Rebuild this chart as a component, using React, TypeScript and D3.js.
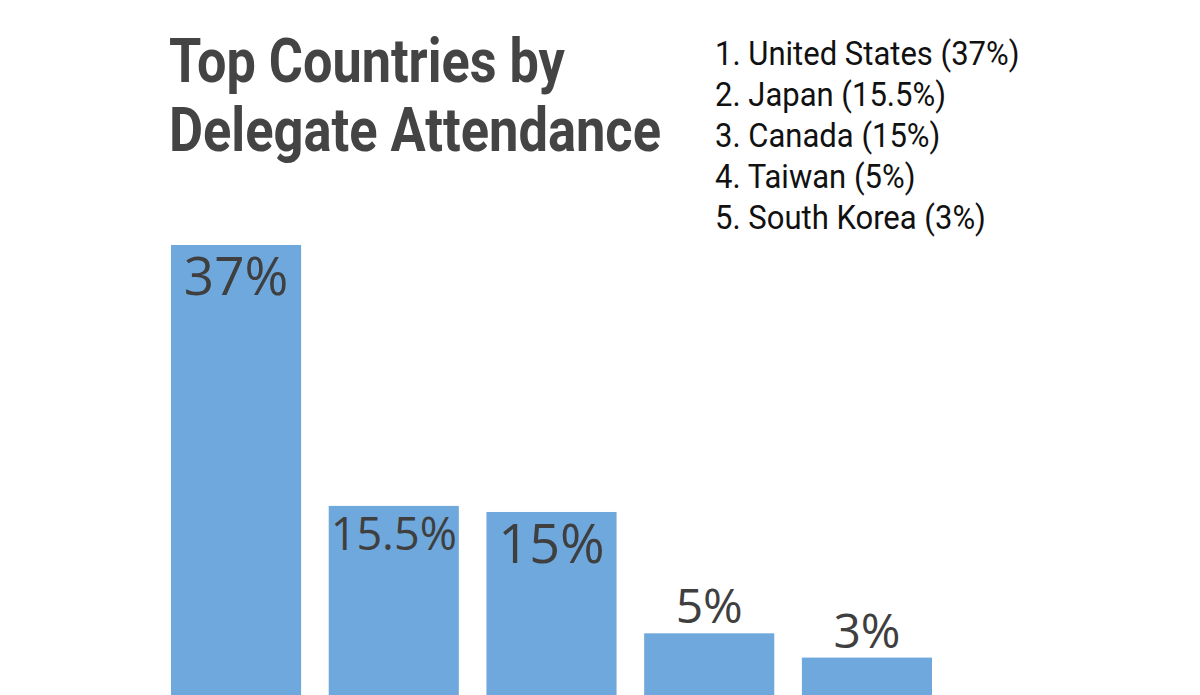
import React, { useEffect, useRef } from "react";
import * as d3 from "d3";

// attendance share per country, in percent
const countries = ["United States", "Japan", "Canada", "Taiwan", "South Korea"];
const shares = [37, 15.5, 15, 5, 3];
const shareLabels = ["37%", "15.5%", "15%", "5%", "3%"];

const titleLines = ["Top Countries by", "Delegate Attendance"];

// the value labels were set by hand at slightly different sizes
const labelSizes = [53, 45, 54, 48, 48];

// squeeze a text horizontally around its own start point
function condense(node: SVGTextElement, x: number, y: number, factor: number) {
  node.setAttribute("x", "0");
  node.setAttribute("y", "0");
  node.setAttribute("transform", `translate(${x},${y}) scale(${factor},1)`);
}

export default function App() {
  const svgRef = useRef<SVGSVGElement>(null);

  useEffect(() => {
    const width = 1200;
    const height = 695;
    const barColor = "#6fa8dc";
    const labelColor = "#3f3f3f";

    const svg = d3.select(svgRef.current);
    svg.selectAll("*").remove();
    svg.attr("width", width).attr("height", height);

    const xScale = d3
      .scaleBand<string>()
      .domain(countries)
      .range([171, 932])
      .paddingInner(0.175)
      .paddingOuter(0);

    const yScale = d3.scaleLinear().domain([0, 37]).range([694, 245]);

    svg
      .append("g")
      .attr("fill", barColor)
      .selectAll("rect")
      .data(shares)
      .join("rect")
      .attr("x", (d, i) => xScale(countries[i]) as number)
      .attr("width", xScale.bandwidth())
      .attr("y", (d) => yScale(d))
      .attr("height", (d) => height - yScale(d));

    // big bars carry their label inside, short ones just above the top
    svg
      .append("g")
      .attr("font-family", "'Open Sans', sans-serif")
      .attr("fill", labelColor)
      .attr("text-anchor", "middle")
      .selectAll("text")
      .data(shares)
      .join("text")
      .attr("x", (d, i) => (xScale(countries[i]) as number) + xScale.bandwidth() / 2)
      .attr("y", (d, i) =>
        d >= 10 ? yScale(d) + labelSizes[i] * 0.72 + 12 : yScale(d) - 10
      )
      .attr("font-size", (d, i) => labelSizes[i])
      .text((d, i) => shareLabels[i]);

    // title, condensed bold
    const titleWidths = [396, 492];
    svg
      .append("g")
      .attr("font-family", "Roboto, sans-serif")
      .attr("font-weight", 700)
      .attr("font-size", 61)
      .attr("fill", "#444444")
      .selectAll("text")
      .data(titleLines)
      .join("text")
      .text((d) => d)
      .each(function (d, i) {
        const node = this as SVGTextElement;
        const natural = node.getComputedTextLength();
        condense(node, 169, 82 + i * 69, titleWidths[i] / natural);
      });

    // ranked list at the top right
    svg
      .append("g")
      .attr("font-family", "Roboto, sans-serif")
      .attr("font-size", 33)
      .attr("fill", "#111111")
      .selectAll("text")
      .data(countries)
      .join("text")
      .text((d, i) => `${i + 1}. ${d} (${shareLabels[i]})`)
      .each(function (d, i) {
        condense(this as SVGTextElement, 715, 65 + i * 41, 0.94);
      });
  }, []);

  return (
    <svg
      ref={svgRef}
      style={{ position: "absolute", left: 0, top: 0, display: "block", background: "#ffffff" }}
    />
  );
}
